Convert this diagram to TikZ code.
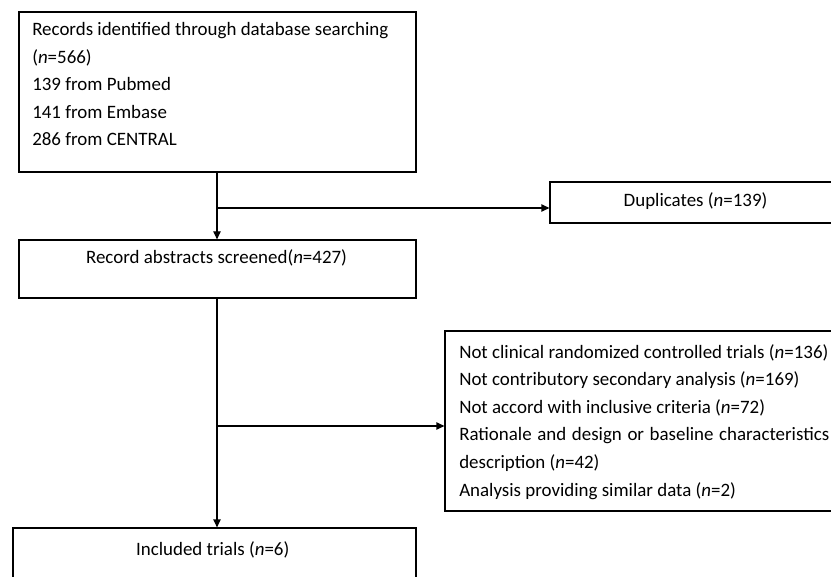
\documentclass[tikz,border=0pt]{standalone}
\usepackage{fontspec}
\setmainfont{Carlito}
\usetikzlibrary{fit,arrows.meta}
\begin{document}
\begin{tikzpicture}[x=0.75pt,y=-0.75pt,
  box/.style={draw, line width=0.9pt, inner sep=0pt, rectangle},
  txt/.style={inner sep=0pt, anchor=base west, align=left, font=\fontsize{14.2}{20.7}\selectfont},
  ctxt/.style={inner sep=0pt, anchor=base, font=\fontsize{14.2}{20.7}\selectfont},
  conn/.style={line width=0.9pt},
  arr/.style={conn, -{Triangle[length=6pt,width=5.5pt]}}]
\path[use as bounding box, clip] (0,0) rectangle (831,577);
\fill[white] (0,0) rectangle (831,577);
% boxes
\node[box, fit={(19,12) (416,172)}] (n1) {};
\node[box, fit={(550,182) (840,223)}] (dup) {};
\node[box, fit={(19,240) (416,298)}] (n2) {};
\node[box, fit={(445,331) (840,511)}] (excl) {};
\node[box, fit={(13,528) (416,590)}] (n3) {};
% texts (anchored at the baseline of the last line)
\node[txt] (t1) at (32,146) {Records identified through database searching\\(\textit{n}=566)\\139 from Pubmed\\141 from Embase\\286 from CENTRAL};
\node[ctxt] (tdup) at (695.5,207) {Duplicates (\textit{n}=139)};
\node[ctxt] (t2) at (216.5,263) {Record abstracts screened(\textit{n}=427)};
\node[txt] (te) at (459,496) {Not clinical randomized controlled trials (\textit{n}=136)\\Not contributory secondary analysis (\textit{n}=169)\\Not accord with inclusive criteria (\textit{n}=72)\\\makebox[277.5pt][s]{Rationale and design or baseline characteristics}\\description (\textit{n}=42)\\Analysis providing similar data (\textit{n}=2)};
\node[ctxt] (t3) at (212.7,555) {Included trials (\textit{n}=6)};
% connectors
\coordinate (b1) at (217,208);
\coordinate (b2) at (217,426);
\draw[arr] (n1.south -| b1) -- (n2.north -| b1);
\draw[arr] (b1) -- (b1 -| dup.west);
\draw[arr] (n2.south -| b2) -- (n3.north -| b2);
\draw[arr] (b2) -- (b2 -| excl.west);
\end{tikzpicture}
\end{document}
